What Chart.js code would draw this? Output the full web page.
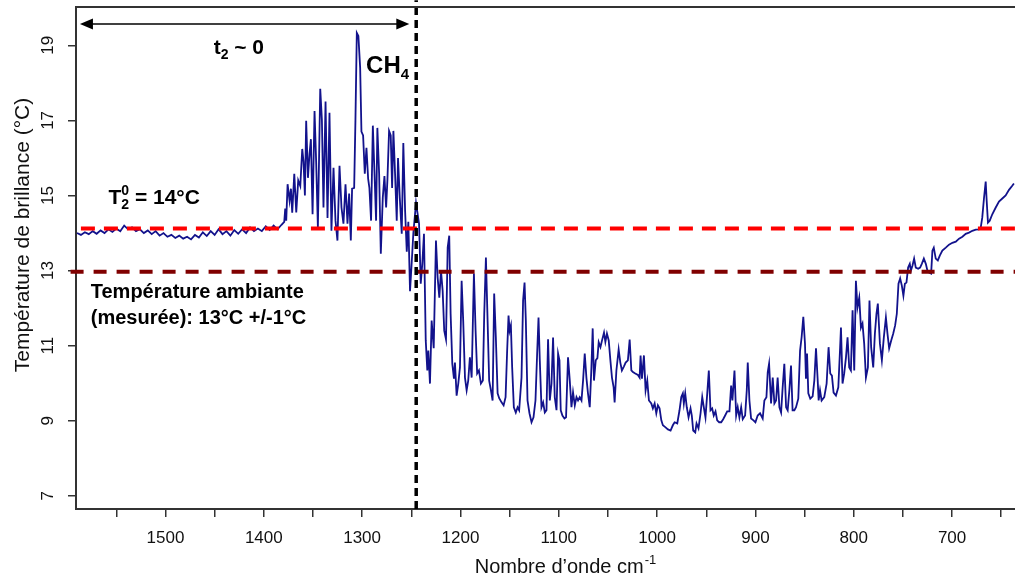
<!DOCTYPE html>
<html lang="fr">

<head>
    <meta charset="UTF-8">
    <title>Température de brillance</title>
    <script src="https://cdn.jsdelivr.net/npm/chart.js"></script>
    <style>
        html, body { margin: 0; padding: 0; background: #fff; }
        canvas { display: block; }
    </style>
</head>

<body>
    <canvas id="myChart" width="1015" height="581"></canvas>

    <script>
        // spectre (nombre d'onde en cm-1, température de brillance en °C)
        const nombreOnde = [
            1590, 1586, 1582, 1578, 1574, 1570, 1566, 1562, 1558, 1554, 1550, 1546, 1542, 1538, 1534, 1530, 1526, 1522,
            1518, 1514, 1510, 1506, 1502, 1498, 1494, 1490, 1486, 1482, 1478, 1474, 1470, 1466, 1462, 1458, 1454, 1450,
            1446, 1442, 1438, 1434, 1430, 1426, 1422, 1418, 1414, 1410, 1406, 1402, 1398, 1394, 1390, 1386, 1382,
            1379.2, 1378.2, 1377.2, 1375.8, 1373.8, 1372.4, 1371.1, 1369.0, 1367.0, 1365.0, 1362.9, 1360.9, 1359.6,
            1358.2, 1356.9, 1355.1, 1353.5, 1352.1, 1350.4, 1348.4, 1346.7, 1345.0, 1342.6, 1340.9, 1339.3, 1337.2,
            1335.2, 1333.2, 1331.2, 1329.1, 1327.1, 1325.1, 1323.0, 1321.0, 1319.0, 1316.9, 1314.9, 1313.2, 1311.5,
            1310.2, 1308.1, 1306.8, 1305.4, 1303.8, 1302.0, 1300.7, 1299.0, 1297.3, 1295.6, 1293.9, 1292.6, 1290.9,
            1289.1, 1287.5, 1285.8, 1284.5, 1282.7, 1281.0, 1279.0, 1277.3, 1275.6, 1274.3, 1272.6, 1270.9, 1269.5,
            1268.2, 1266.5, 1264.8, 1263.5, 1261.7, 1259.7, 1258.1, 1256.3, 1254.6, 1253.0, 1251.3, 1249.6, 1247.9,
            1245.2, 1242.1, 1240.4, 1238.8, 1237.1, 1235.3, 1233.7, 1232.7, 1231.0, 1229.3, 1227.2, 1224.9, 1223.2,
            1221.5, 1219.8, 1218.1, 1216.5, 1214.7, 1213.0, 1211.4, 1210.0, 1208.3, 1206.6, 1205.6, 1203.9, 1202.2,
            1200.5, 1198.8, 1197.2, 1195.4, 1193.7, 1192.1, 1190.4, 1188.6, 1186.3, 1184.6, 1183.0, 1181.2, 1179.2,
            1177.2, 1175.8, 1174.1, 1172.4, 1170.8, 1169.0, 1167.3, 1165.7, 1164.0, 1162.2, 1160.6, 1158.2, 1156.1,
            1154.1, 1152.5, 1151.1, 1150.0, 1148.7, 1147.4, 1145.7, 1143.7, 1141.9, 1140.3, 1137.9, 1136.3, 1134.8,
            1133.5, 1131.8, 1129.8, 1127.7, 1125.7, 1123.7, 1122.0, 1120.6, 1119.3, 1117.6, 1115.9, 1114.2, 1112.5,
            1110.9, 1109.1, 1107.4, 1105.8, 1104.1, 1102.3, 1100.7, 1099.3, 1098.0, 1096.3, 1094.2, 1092.6, 1090.6,
            1088.8, 1087.1, 1085.5, 1083.7, 1082.0, 1080.4, 1078.7, 1076.9, 1075.3, 1073.6, 1071.9, 1070.3, 1068.5,
            1066.8, 1065.5, 1064.2, 1062.4, 1060.7, 1059.4, 1057.6, 1056.0, 1054.0,
            1052.6, 1051.0, 1049.2, 1047.5, 1045.9, 1044.2, 1043.2, 1041.4, 1039.1, 1037.4, 1035.8, 1033.7, 1032.0,
            1029.7, 1027.9, 1026.2, 1024.6, 1022.2, 1019.5, 1017.8, 1016.8, 1015.4, 1013.4, 1011.7, 1010.0, 1008.3,
            1005.9, 1004.3, 1002.5, 1000.8, 999.2, 997.5, 995.7, 994.1, 991.7, 989.0, 986.3, 984.0, 982.2, 979.5,
            977.2, 975.4, 973.8, 972.8, 971.4, 969.8, 968.0, 966.0, 964.7, 963.3, 961.2, 959.9, 957.9, 955.8, 954.1,
            952.5, 950.8, 949.0, 947.4, 945.7, 944.0, 942.4, 940.6, 938.9, 936.9, 934.8, 932.8, 930.8, 928.7, 926.4,
            924.7, 923.4, 921.3, 919.6, 918.0, 916.3, 914.5, 912.9, 910.5, 908.8, 907.8, 906.1, 904.4, 902.0, 900.0,
            897.7, 895.3, 892.6, 890.9, 888.8, 887.5, 886.1, 884.1, 882.4, 880.7, 879.0, 877.4, 875.6, 873.9, 872.3,
            870.6, 868.8, 867.2, 865.5, 863.8, 862.2, 860.4, 858.7, 856.4, 854.6, 853.0, 851.3, 849.6, 848.6, 847.5,
            846.2, 844.2, 841.8, 840.1,
            838.4, 836.8, 835.7, 834.3, 832.7, 830.0, 827.6, 825.6, 823.9, 822.2, 820.5, 818.1, 815.7, 814.0, 813.0,
            811.4, 809.7, 807.9, 806.3, 804.6, 802.9, 801.2, 799.5, 797.8, 796.2, 794.4, 792.7, 791.1, 789.4, 787.6,
            785.6, 784.0, 782.3, 780.2, 778.5, 776.9, 775.5, 773.4, 771.4, 769.4, 767.3, 765.7, 764.0, 761.9, 759.9,
            757.9, 756.2, 754.5, 752.8, 751.1, 749.5, 748.0, 746.4, 744.7, 743.0, 741.9, 740.3, 738.6, 736.9, 734.5,
            732.5, 730.8, 728.7, 726.7, 725.1, 723.4, 721.3, 720.0, 718.6, 716.6, 714.5, 712.5, 709.9, 706.4, 703.1,
            699.7, 696.2, 692.9, 689.5, 686.1, 682.8, 679.4, 675.9, 672.6, 670.9, 669.3, 667.5, 665.8, 664.8, 663.5,
            661.7, 659.1, 655.6, 652.3, 648.9, 645.5, 642.1, 638.8, 637.1
        ];

        const temperature = [
            14.0, 13.95, 14.02, 13.97, 14.05, 13.98, 14.07, 14.0, 14.1, 14.03, 14.12, 14.05, 14.2, 14.1, 14.15, 14.05, 14.1, 14.0,
            14.07, 13.97, 14.05, 13.93, 14.0, 13.9, 13.95, 13.87, 13.93, 13.85, 13.9, 13.83, 13.95, 13.88, 14.02, 13.92, 14.05, 13.95,
            14.1, 13.97, 14.05, 13.93, 14.08, 13.98, 14.1, 14.0, 14.15, 14.05, 14.12, 14.05, 14.18, 14.08, 14.2, 14.1, 14.22,
            14.3, 14.65, 14.33, 15.3, 14.86, 15.18, 14.54, 15.58, 14.55, 15.4, 15.25, 16.24, 15.9,
            15.0, 16.99, 15.47, 16.11, 16.5, 14.5, 17.25, 15.85, 14.15, 17.84, 17.0, 14.68, 17.5,
            14.4, 17.2, 14.06, 15.74, 14.33, 13.8, 15.79, 14.68, 14.25, 15.3, 14.25, 15.05, 13.8,
            15.18, 15.2, 17.0, 19.33, 19.25, 18.4, 16.7, 16.6, 15.58, 16.27, 15.45, 15.2, 14.33,
            16.86, 15.66, 14.33, 16.8, 15.58, 13.45, 14.94, 15.52, 14.68, 15.4, 16.72, 16.6, 15.2,
            16.72, 15.58, 14.33, 16.0, 14.94, 13.98, 16.4, 14.6, 13.5, 14.3, 12.45, 13.2, 14.0,
            14.8, 14.25, 12.65, 13.18, 13.98, 11.14, 10.34, 10.87, 9.99, 11.67, 10.93, 13.8, 12.82,
            12.28, 13.0, 12.46, 11.4, 11.17, 13.61, 13.93, 11.85, 10.52, 10.12, 10.55, 9.67, 9.99,
            10.42, 12.73, 11.67, 10.15, 9.81, 10.07, 10.69, 10.15, 12.92, 11.4, 10.26, 10.34, 9.99,
            10.07, 11.85, 13.35, 11.67, 10.07, 9.81, 9.54, 12.39, 11.22, 9.73, 9.6, 9.49, 9.41,
            9.63, 10.87, 11.8, 11.4, 11.54, 10.42, 9.36, 9.22, 9.36, 9.28, 10.15, 12.2, 12.68,
            11.67, 9.54, 9.2, 8.96, 9.09, 9.54, 10.79, 11.75, 10.61, 9.36, 9.49, 9.22, 9.28,
            11.17, 9.54, 9.99, 11.22, 9.63, 9.28, 10.79, 10.61, 9.28, 9.14, 9.06, 9.09, 10.69,
            10.07, 9.36, 9.76, 9.41, 9.63, 9.54, 9.63, 9.54, 10.07, 10.79, 10.15, 9.73, 9.36,
            10.42, 11.46, 10.07, 10.61, 10.67, 11.09, 10.96, 11.14, 11.35,
            11.1, 11.32, 11.14, 10.61, 10.15, 9.89, 9.49, 10.34, 10.9, 10.55, 10.34, 10.45, 10.55,
            10.61, 11.16, 10.34, 10.3, 10.26, 10.22, 10.15, 10.74, 10.12, 10.74, 9.81, 10.07, 9.54,
            9.46, 9.33, 9.46, 9.2, 9.41, 9.33, 9.01, 8.88, 8.83, 8.77, 8.74, 8.88, 8.96, 8.93,
            9.28, 9.63, 9.73, 9.46, 9.73, 9.36, 9.09, 9.33, 9.14, 8.74, 8.69, 8.93, 8.8, 9.2, 9.63,
            9.36, 9.09, 9.73, 10.34, 9.28, 9.33, 9.14, 9.25, 9.01, 8.96, 8.96, 9.04, 9.14, 9.25, 9.25,
            9.94, 9.54, 10.34, 9.14, 9.36, 9.09, 9.36, 9.04, 9.14, 9.81, 10.55, 9.54, 9.06, 9.01, 8.96,
            9.14, 9.2, 9.06, 9.54, 9.63, 10.29, 10.52, 9.46, 10.15, 9.46, 9.54, 10.15, 9.36, 9.22, 9.89,
            10.52, 9.36, 9.28, 9.81, 10.47, 9.28, 9.28, 9.36, 9.59, 10.87, 11.23, 11.77, 11.05, 10.12, 10.79,
            9.73, 9.59, 9.65, 10.07,
            10.93, 10.15, 9.54, 9.81, 9.54, 9.63, 9.99, 10.96, 10.26, 10.2, 9.75, 9.67, 9.89, 10.87, 11.48,
            9.99, 10.26, 10.69, 11.22, 10.42, 10.34, 11.94, 10.34, 12.73, 12.02, 12.28, 11.48, 11.59, 11.06, 10.15,
            10.42, 12.2, 10.96, 10.42, 11.32, 11.85, 12.12, 11.06, 10.61, 11.22, 11.75, 11.32, 10.93, 11.14, 11.32,
            11.54, 11.85, 12.65, 12.79, 12.6, 12.33, 12.65, 12.68, 13.08, 13.18, 13.0, 13.13, 13.32, 13.08, 13.05,
            13.08, 13.18, 13.32, 13.18, 13.0, 12.95, 12.92, 13.53, 13.61, 13.32, 13.27, 13.4, 13.53, 13.61, 13.69,
            13.74, 13.77, 13.85, 13.9, 13.98, 14.01, 14.06, 14.09, 14.1, 14.14, 14.41, 14.94, 15.37, 14.86, 14.28,
            14.33, 14.5, 14.68, 14.84, 14.92, 15.0, 15.15, 15.26, 15.32
        ];

        const xTicks = [1550, 1500, 1450, 1400, 1350, 1300, 1250, 1200, 1150, 1100, 1050, 1000, 950, 900, 850, 800, 750, 700, 650];
        const yTicks = [7, 9, 11, 13, 15, 17, 19];

        const xMin = 636, xMax = 1591;
        const yMin = 6.65, yMax = 20.02;

        const tempT02 = 14.12;       // T0_2 = 14 °C
        const tempAmbiante = 12.97;  // température ambiante mesurée
        const limiteCH4 = 1245;      // bord de la bande CH4

        const spectre = nombreOnde.map((x, i) => ({ x: x, y: temperature[i] }));

        const police = "'Liberation Sans', Arial, sans-serif";

        // textes, flèche, titres d'axes et cadre du haut
        const annotations = {
            id: 'annotations',
            afterDatasetsDraw(chart) {
                const ctx = chart.ctx;
                const px = v => chart.scales.x.getPixelForValue(v);
                const py = v => chart.scales.y.getPixelForValue(v);
                const area = chart.chartArea;

                ctx.save();
                // cadre haut
                ctx.strokeStyle = '#333';
                ctx.lineWidth = 2;
                ctx.beginPath();
                ctx.moveTo(area.left, area.top);
                ctx.lineTo(area.right, area.top);
                ctx.stroke();

                // flèche double t2 ~ 0
                const fy = py(19.57), fx1 = px(1587), fx2 = px(1252);
                ctx.strokeStyle = '#000';
                ctx.fillStyle = '#000';
                ctx.lineWidth = 1.5;
                ctx.beginPath();
                ctx.moveTo(fx1 + 8, fy);
                ctx.lineTo(fx2 - 8, fy);
                ctx.stroke();
                ctx.beginPath();
                ctx.moveTo(fx1, fy);
                ctx.lineTo(fx1 + 13, fy - 5.5);
                ctx.lineTo(fx1 + 13, fy + 5.5);
                ctx.closePath();
                ctx.fill();
                ctx.beginPath();
                ctx.moveTo(fx2, fy);
                ctx.lineTo(fx2 - 13, fy - 5.5);
                ctx.lineTo(fx2 - 13, fy + 5.5);
                ctx.closePath();
                ctx.fill();

                ctx.fillStyle = '#000';
                ctx.textAlign = 'left';
                ctx.textBaseline = 'alphabetic';

                function morceaux(x, y, parts) {
                    parts.forEach(p => {
                        ctx.font = 'bold ' + p.size + 'px ' + police;
                        ctx.fillText(p.t, x, y + (p.dy || 0));
                        if (!p.stay) x += ctx.measureText(p.t).width;
                    });
                    return x;
                }

                morceaux(px(1451), py(18.77), [
                    { t: 't', size: 21 }, { t: '2', size: 14, dy: 5 }, { t: ' ~ 0', size: 21 }
                ]);
                morceaux(px(1296), py(18.27), [
                    { t: 'CH', size: 24 }, { t: '4', size: 15, dy: 6 }
                ]);
                morceaux(px(1558), py(14.78), [
                    { t: 'T', size: 21 }, { t: '0', size: 14, dy: -9, stay: true }, { t: '2', size: 14, dy: 5 },
                    { t: ' = 14°C', size: 21 }
                ]);
                ctx.font = 'bold 20px ' + police;
                ctx.fillText('Température ambiante', px(1576), py(12.28));
                ctx.fillText('(mesurée): 13°C +/-1°C', px(1576), py(11.59));

                // titre axe x avec exposant
                ctx.fillStyle = '#111';
                const base = 'Nombre d’onde cm';
                ctx.font = '20px ' + police;
                const wBase = ctx.measureText(base).width;
                ctx.font = '13px ' + police;
                const wSup = ctx.measureText('-1').width;
                const tx = 565 - (wBase + wSup) / 2;
                ctx.font = '20px ' + police;
                ctx.fillText(base, tx, 573);
                ctx.font = '13px ' + police;
                ctx.fillText('-1', tx + wBase + 1, 564);

                // titre axe y
                ctx.translate(23, 235);
                ctx.rotate(-Math.PI / 2);
                ctx.font = '21px ' + police;
                ctx.textAlign = 'center';
                ctx.textBaseline = 'middle';
                ctx.fillText('Température de brillance (°C)', 0, 0);
                ctx.restore();
            }
        };

        const config = {
            type: 'line',
            data: {
                datasets: [
                    {
                        label: 'CH4',
                        data: [{ x: limiteCH4, y: yMin }, { x: limiteCH4, y: 20.2 }],
                        borderColor: '#000',
                        borderWidth: 3.5,
                        borderDash: [8, 5],
                        pointRadius: 0,
                        clip: false,
                        order: 0
                    },
                    {
                        label: 'T0_2',
                        data: [{ x: 1586, y: tempT02 }, { x: xMin, y: tempT02 }],
                        borderColor: '#ff0000',
                        borderWidth: 4,
                        borderDash: [14, 9],
                        pointRadius: 0,
                        order: 1
                    },
                    {
                        label: 'Ambiante',
                        data: [{ x: 1596.5, y: tempAmbiante }, { x: xMin, y: tempAmbiante }],
                        borderColor: '#800000',
                        borderWidth: 4,
                        borderDash: [13, 10],
                        pointRadius: 0,
                        clip: false,
                        order: 1
                    },
                    {
                        label: 'Température de brillance',
                        data: spectre,
                        borderColor: '#12128c',
                        borderWidth: 1.8,
                        pointRadius: 0,
                        tension: 0,
                        order: 3
                    }
                ]
            },
            options: {
                responsive: false,
                animation: false,
                layout: { padding: { top: 7, right: 0, left: 0, bottom: 0 } },
                plugins: {
                    legend: { display: false },
                    tooltip: { enabled: false }
                },
                scales: {
                    x: {
                        type: 'linear',
                        reverse: true,
                        min: xMin,
                        max: xMax,
                        afterBuildTicks: s => { s.ticks = xTicks.map(v => ({ value: v })); },
                        afterFit: s => { s.height = 72; s.paddingLeft = 0; s.paddingRight = 0; },
                        border: { display: true, color: '#333', width: 2 },
                        grid: { drawOnChartArea: false, drawTicks: true, tickLength: 8, color: '#333', lineWidth: 1.5 },
                        ticks: {
                            autoSkip: false,
                            maxRotation: 0,
                            padding: 11,
                            color: '#111',
                            font: { family: police, size: 17 },
                            callback: v => (v % 100 === 0 ? String(v) : '')
                        }
                    },
                    y: {
                        type: 'linear',
                        min: yMin,
                        max: yMax,
                        afterBuildTicks: s => { s.ticks = yTicks.map(v => ({ value: v })); },
                        afterFit: s => { s.width = 76; s.paddingTop = 0; s.paddingBottom = 0; },
                        border: { display: true, color: '#333', width: 2 },
                        grid: { drawOnChartArea: false, drawTicks: true, tickLength: 8, color: '#333', lineWidth: 1.5 },
                        ticks: {
                            minRotation: 90,
                            maxRotation: 90,
                            crossAlign: 'center',
                            padding: 10,
                            color: '#111',
                            font: { family: police, size: 17 }
                        }
                    }
                }
            },
            plugins: [annotations]
        };

        const myChart = new Chart(document.getElementById('myChart'), config);
    </script>
</body>

</html>
